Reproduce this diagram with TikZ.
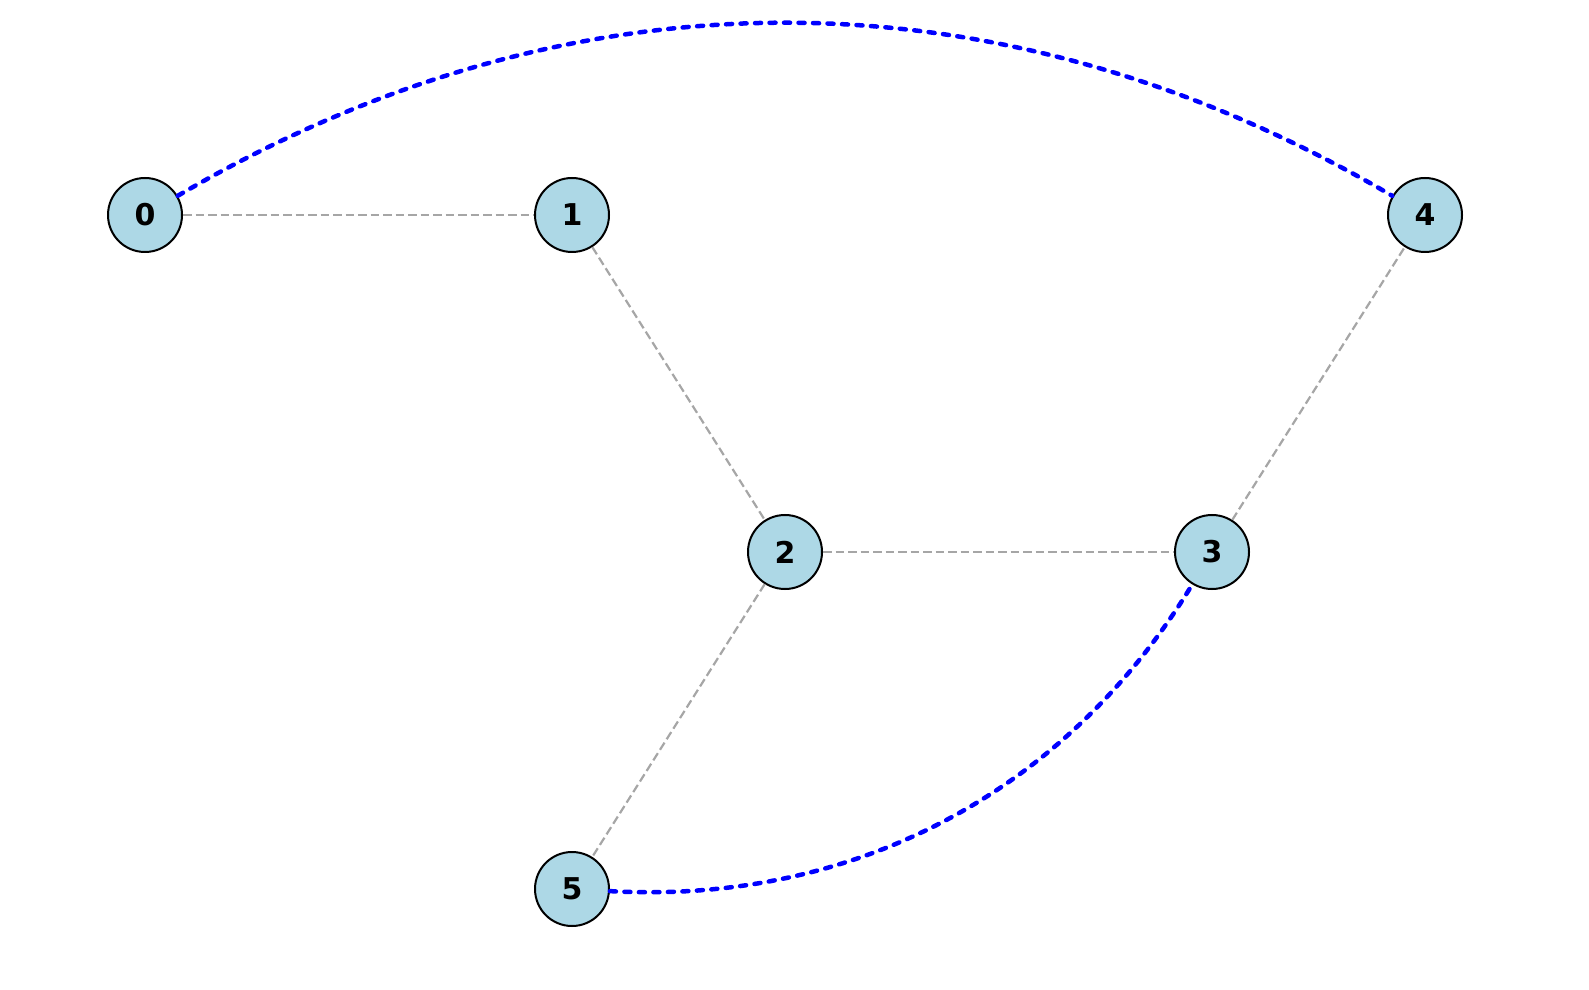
\documentclass[tikz,border=0pt]{standalone}
\usepackage{fontspec}
\setmainfont{DejaVu Sans}
\begin{document}
\begin{tikzpicture}[x=1pt,y=1pt,
  vertex/.style={circle,draw=black,line width=2pt,fill={rgb,255:red,173;green,216;blue,230},minimum size=74pt,inner sep=0pt,font=\fontsize{30}{31}\selectfont\bfseries},
  grayedge/.style={draw={rgb,255:red,166;green,166;blue,166},line width=2.2pt,dash pattern=on 8.5pt off 4pt},
  blueedge/.style={draw={rgb,255:red,0;green,0;blue,255},line width=4.5pt,line cap=round,dash pattern=on 6pt off 8.5pt}]
\path[use as bounding box] (0,0) rectangle (1589,989);
\node[vertex] (n0) at (145,774) {0};
\node[vertex] (n1) at (572,774) {1};
\node[vertex] (n4) at (1425,774) {4};
\node[vertex] (n2) at (785,437) {2};
\node[vertex] (n3) at (1212,437) {3};
\node[vertex] (n5) at (572,100) {5};
\coordinate (a1) at (571.7,1024);
\coordinate (a2) at (998.3,1024);
\coordinate (b1) at (852.7,84.3);
\coordinate (b2) at (1066,196.7);
\draw[grayedge] (n0) -- (n1);
\draw[grayedge] (n1) -- (n2);
\draw[grayedge] (n2) -- (n3);
\draw[grayedge] (n3) -- (n4);
\draw[grayedge] (n2) -- (n5);
\draw[blueedge] (n0) .. controls (a1) and (a2) .. (n4);
\draw[blueedge] (n5) .. controls (b1) and (b2) .. (n3);
\end{tikzpicture}
\end{document}
